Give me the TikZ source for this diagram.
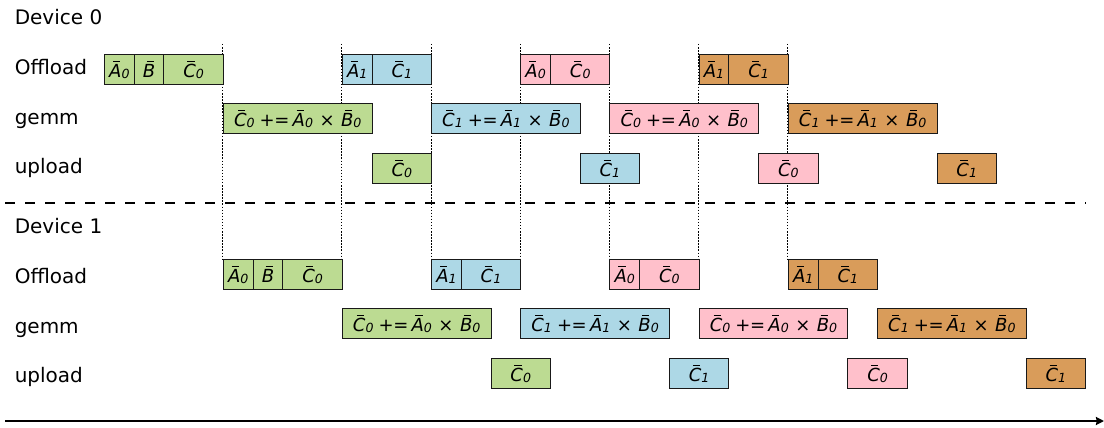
\documentclass[tikz,border=0pt]{standalone}
\usepackage{fontspec}
\setmainfont{DejaVu Sans}
\usetikzlibrary{arrows.meta}

\definecolor{cgreen}{RGB}{188,219,146}
\definecolor{cblue}{RGB}{173,216,230}
\definecolor{cpink}{RGB}{255,192,203}
\definecolor{corange}{RGB}{217,156,90}

% barred italic letter with an optional italic subscript
\newcommand\ob[2]{{\itshape\setbox0=\hbox{#1}%
  \rlap{\hbox to \wd0{\hss\kern0.14em\raisebox{0.87em}{\rule{0.40em}{0.09em}}\hss}}\box0%
  \raisebox{-0.05em}{\fontsize{9.45pt}{10pt}\selectfont #2}}}
\newcommand\upd[3]{\ob{C}{#1}\kern0.28em+\kern-0.02em=\kern0.18em\ob{A}{#2}\kern0.36em×\kern0.36em\ob{B}{#3}}

% time axis: x position of time slot #1
\newcommand\X[1]{104+29.733*(#1)}
% a block: name, start slot, length in slots, top edge, fill, text
\newcommand\cel[6]{\node[cell,fill=#5,minimum width={(#3)*22.3pt}] (#1) at ({\X{#2}},#4) {#6};}

\tikzset{
  cell/.style={draw=black!90,line width=0.75pt,anchor=north west,inner sep=0pt,
    minimum height=22.5pt,text height=12.6pt,text depth=0pt,
    font=\fontsize{13.5pt}{16pt}\selectfont},
  rowlabel/.style={anchor=base west,inner sep=0pt,font=\fontsize{15pt}{18pt}\selectfont},
  guide/.style={line width=0.8pt,dash pattern=on 1.1pt off 1.2pt,black},
}

\begin{document}
\begin{tikzpicture}[x=0.75pt,y=-0.75pt]
\useasboundingbox (0,0) rectangle (1104,428);

% slot boundaries shared by both devices
\foreach \s in {4,8,11,14,17,20,23}
  \draw[guide] ({\X{\s}},44) -- ({\X{\s}},259);

% row labels
\node[rowlabel] (dev0) at (14.5,25) {Device 0};
\node[rowlabel] (off0) at (14.5,75) {Offload};
\node[rowlabel] (gem0) at (14.5,124) {gemm};
\node[rowlabel] (upl0) at (14.5,173) {upload};
\node[rowlabel] (dev1) at (14.5,233) {Device 1};
\node[rowlabel] (off1) at (14.5,283) {Offload};
\node[rowlabel] (gem1) at (14.5,333) {gemm};
\node[rowlabel] (upl1) at (14.5,382) {upload};

% ---- Device 0 ----
\cel{a0oA}{0}{1}{54}{cgreen}{\ob{A}{0}}
\cel{a0oB}{1}{1}{54}{cgreen}{\ob{B}{}}
\cel{a0oC}{2}{2}{54}{cgreen}{\ob{C}{0}}
\cel{a0g}{4}{5}{103}{cgreen}{\upd{0}{0}{0}}
\cel{a0u}{9}{2}{153}{cgreen}{\ob{C}{0}}

\cel{a1oA}{8}{1}{54}{cblue}{\ob{A}{1}}
\cel{a1oC}{9}{2}{54}{cblue}{\ob{C}{1}}
\cel{a1g}{11}{5}{103}{cblue}{\upd{1}{1}{0}}
\cel{a1u}{16}{2}{153}{cblue}{\ob{C}{1}}

\cel{a2oA}{14}{1}{54}{cpink}{\ob{A}{0}}
\cel{a2oC}{15}{2}{54}{cpink}{\ob{C}{0}}
\cel{a2g}{17}{5}{103}{cpink}{\upd{0}{0}{0}}
\cel{a2u}{22}{2}{153}{cpink}{\ob{C}{0}}

\cel{a3oA}{20}{1}{54}{corange}{\ob{A}{1}}
\cel{a3oC}{21}{2}{54}{corange}{\ob{C}{1}}
\cel{a3g}{23}{5}{103}{corange}{\upd{1}{1}{0}}
\cel{a3u}{28}{2}{153}{corange}{\ob{C}{1}}

% separator between devices
\coordinate (sepL) at (5,203);
\coordinate (sepR) at (1086,203);
\draw[line width=1.5pt,dash pattern=on 7.5pt off 7.5pt] (sepL) -- (sepR);

% ---- Device 1 ----
\cel{b0oA}{4}{1}{259}{cgreen}{\ob{A}{0}}
\cel{b0oB}{5}{1}{259}{cgreen}{\ob{B}{}}
\cel{b0oC}{6}{2}{259}{cgreen}{\ob{C}{0}}
\cel{b0g}{8}{5}{308}{cgreen}{\upd{0}{0}{0}}
\cel{b0u}{13}{2}{358}{cgreen}{\ob{C}{0}}

\cel{b1oA}{11}{1}{259}{cblue}{\ob{A}{1}}
\cel{b1oC}{12}{2}{259}{cblue}{\ob{C}{1}}
\cel{b1g}{14}{5}{308}{cblue}{\upd{1}{1}{0}}
\cel{b1u}{19}{2}{358}{cblue}{\ob{C}{1}}

\cel{b2oA}{17}{1}{259}{cpink}{\ob{A}{0}}
\cel{b2oC}{18}{2}{259}{cpink}{\ob{C}{0}}
\cel{b2g}{20}{5}{308}{cpink}{\upd{0}{0}{0}}
\cel{b2u}{25}{2}{358}{cpink}{\ob{C}{0}}

\cel{b3oA}{23}{1}{259}{corange}{\ob{A}{1}}
\cel{b3oC}{24}{2}{259}{corange}{\ob{C}{1}}
\cel{b3g}{26}{5}{308}{corange}{\upd{1}{1}{0}}
\cel{b3u}{31}{2}{358}{corange}{\ob{C}{1}}

% time axis
\coordinate (tL) at (5,421);
\coordinate (tR) at (1104,421);
\draw[line width=1.5pt,-{Stealth[length=6pt,width=6pt,inset=0.5pt]}] (tL) -- (tR);
\end{tikzpicture}
\end{document}
